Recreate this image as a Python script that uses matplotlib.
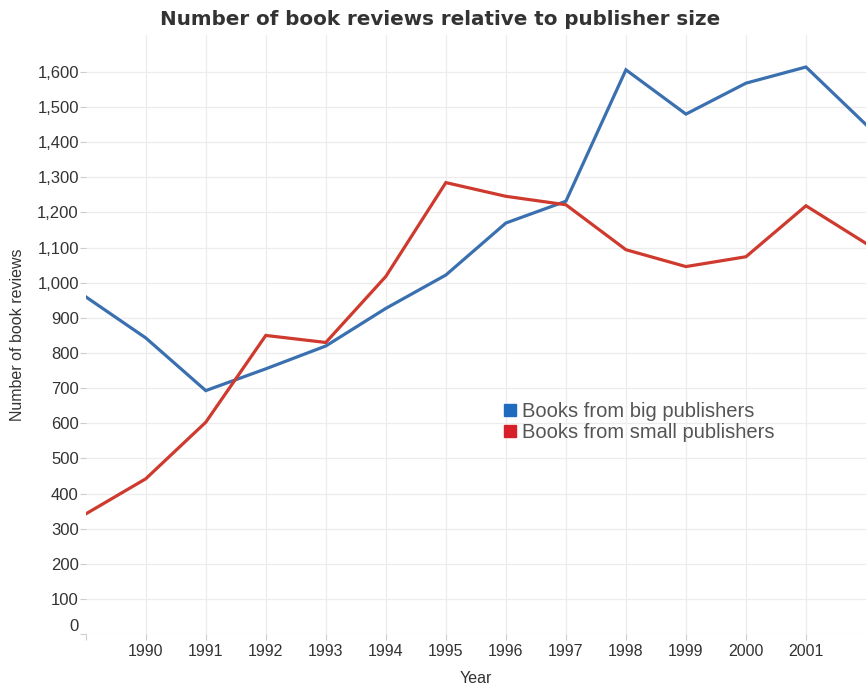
import matplotlib.pyplot as plt
from matplotlib.ticker import FuncFormatter
from matplotlib.lines import Line2D

plt.rcParams['font.family'] = ['Liberation Sans', 'DejaVu Sans']

years = list(range(1989, 2003))
big_publishers = [960, 843, 693, 755, 820, 927, 1022, 1170, 1232, 1606, 1480, 1568, 1614, 1450]
small_publishers = [342, 442, 603, 850, 830, 1018, 1285, 1246, 1222, 1094, 1046, 1074, 1219, 1112]
year_ticks = list(range(1990, 2002))
y_ticks = list(range(0, 1700, 100))

blue = '#3b70b0'
red = '#cf3a2e'

fig = plt.figure(figsize=(8.66, 6.87), dpi=100)
ax = fig.add_axes([0.099, 0.077, 0.901, 0.872])

ax.plot(years, big_publishers, color=blue, lw=2.3, solid_joinstyle='miter')
ax.plot(years, small_publishers, color=red, lw=2.3, solid_joinstyle='miter')

ax.set_xlim(1989, 2002)
ax.set_ylim(0, 1705)
ax.set_xticks(year_ticks)
ax.set_xticks([1989], minor=True)
ax.set_yticks(y_ticks)
ax.yaxis.set_major_formatter(FuncFormatter(lambda v, p: f'{int(v):,}'))
ax.grid(True, color='#ededed', lw=0.9)
ax.set_axisbelow(True)
for s in ax.spines.values():
    s.set_visible(False)
ax.tick_params(axis='both', which='both', colors='#cccccc', labelcolor='#333333',
               length=4, width=0.8)
ax.tick_params(axis='x', labelsize=11.5, pad=3)
ax.tick_params(axis='y', labelsize=12, pad=1)
# tableau nudges the bottom label up off the axis
ax.yaxis.get_major_ticks()[0].label1.set_va('bottom')

ax.set_xlabel('Year', fontsize=11.5, color='#333333', labelpad=9)
ax.set_ylabel('Number of book reviews', fontsize=11.5, color='#333333', labelpad=9)
fig.suptitle('Number of book reviews relative to publisher size', x=0.508, y=0.985,
             fontsize=14.3, fontweight='bold', color='#333333', family='DejaVu Sans')

handles = [Line2D([], [], ls='none', marker='s', ms=9, color='#1f6bbf'),
           Line2D([], [], ls='none', marker='s', ms=9, color='#d7202a')]
ax.legend(handles, ['Books from big publishers', 'Books from small publishers'],
          loc='upper left', bbox_to_anchor=(0.518, 0.405), frameon=False,
          fontsize=14.5, labelcolor='#555555', handletextpad=0.1,
          handlelength=1.0, borderpad=0, labelspacing=0.1)

fig.savefig('out.png', dpi=100)
